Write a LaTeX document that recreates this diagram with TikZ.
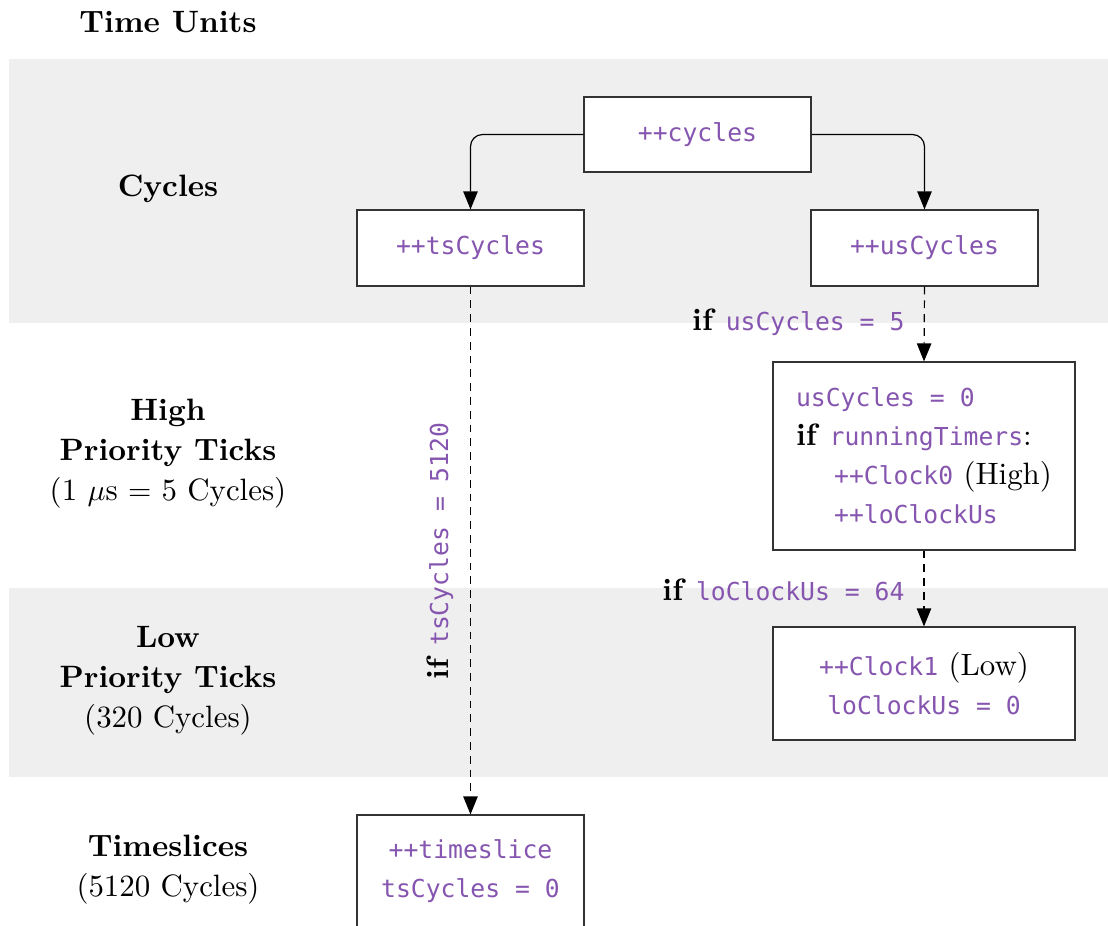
\documentclass[tikz,border=0pt]{standalone}
\usepackage{fontspec}
\newfontfamily\codefont{DejaVu Sans Mono}[Scale=0.8]
\usetikzlibrary{arrows.meta}
\definecolor{band}{HTML}{EFEFEF}
\definecolor{code}{RGB}{133,85,175}
\definecolor{boxline}{HTML}{333333}
\newcommand{\cd}[1]{{\codefont\color{code}#1}}
\tikzset{
  box/.style={draw=boxline, line width=0.4pt, fill=white, inner sep=0pt},
  rowlabel/.style={align=center},
  arr/.style={line width=0.4pt, -{Triangle[length=6pt,width=4.8pt]}},
  dasharr/.style={arr, dash pattern=on 2.6pt off 2pt},
  cond/.style={anchor=east, inner sep=0pt}
}
\begin{document}
\begin{tikzpicture}[x=0.33333pt, y=-0.33333pt, font=\fontsize{10.3pt}{12.4pt}\selectfont]
  \useasboundingbox (0,0) rectangle (1108,925);
  \clip (0,0) rectangle (1108,925);
  % shaded bands for Cycles and Low Priority Ticks
  \fill[band] (9,59) rectangle (1108,323);
  \fill[band] (9,588) rectangle (1108,777);

  % row titles
  \node[rowlabel] (title) at (168,22) {\bfseries Time Units};
  \node[rowlabel] (lcyc) at (168,189) {\bfseries Cycles};
  \node[rowlabel] (lhigh) at (168,454) {\bfseries High\\[0.9pt] \bfseries Priority Ticks\\[0.9pt] (1 $\mu$s $=$ 5 Cycles)};
  \node[rowlabel] (llow) at (168,681) {\bfseries Low\\[0.9pt] \bfseries Priority Ticks\\[0.9pt] (320 Cycles)};
  \node[rowlabel] (lts) at (168,870) {\bfseries Timeslices\\[0.9pt] (5120 Cycles)};

  % counters
  \node[box, minimum width=75.67pt, minimum height=25pt] (cyc) at (697.5,134.5) {\cd{++cycles}};
  \node[box, minimum width=75.67pt, minimum height=25.33pt] (ts) at (470.5,248) {\cd{++tsCycles}};
  \node[box, minimum width=75.67pt, minimum height=25.33pt] (us) at (924.5,248) {\cd{++usCycles}};
  \node[box, minimum width=100.67pt, minimum height=62.67pt, align=left] (high) at (924,456)
    {\cd{usCycles = 0}\\[0.6pt]
     \textbf{if} \cd{runningTimers}:\\[0.6pt]
     \hspace*{12.7pt}\cd{++Clock0} (High)\\[0.6pt]
     \hspace*{12.7pt}\cd{++loClockUs}};
  \node[box, minimum width=100.67pt, minimum height=37.67pt, align=center] (low) at (924,683.5)
    {\cd{++Clock1} (Low)\\[0.6pt] \cd{loClockUs = 0}};
  \node[box, minimum width=75.67pt, minimum height=37.67pt, align=center] (slice) at (470.5,871.5)
    {\cd{++timeslice}\\[0.6pt] \cd{tsCycles = 0}};

  % connectors
  \draw[arr, rounded corners=4pt] (cyc.west) -| (ts.north);
  \draw[arr, rounded corners=4pt] (cyc.east) -| (us.north);
  \draw[dasharr] (us.south) -- (high.north);
  \draw[dasharr] (high.south) -- (low.north);
  \draw[dasharr] (ts.south) -- (slice.north);

  % conditions
  \node[cond] (c1) at (905,322) {\textbf{if} \cd{usCycles = 5}};
  \node[cond] (c2) at (905,590) {\textbf{if} \cd{loClockUs = 64}};
  \node[inner sep=0pt, rotate=90] (c3) at (440,551) {\textbf{if} \cd{tsCycles = 5120}};
\end{tikzpicture}
\end{document}
